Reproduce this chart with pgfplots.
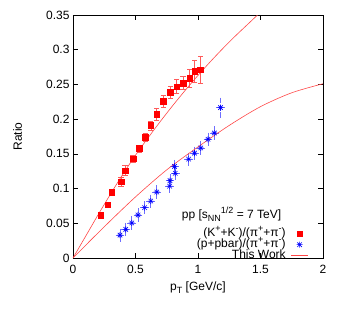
\documentclass[border=0pt]{standalone}
\usepackage{fontspec}
\setmainfont{Liberation Sans}
\usepackage{pgfplots}
\pgfplotsset{compat=1.18}
\newcommand{\sups}[1]{\raisebox{0.42em}{\fontsize{9}{9}\selectfont #1}}
\newcommand{\subs}[1]{\raisebox{-0.25em}{\fontsize{9}{9}\selectfont #1}}
\pgfdeclareplotmark{gpstar}{%
  \pgfpathmoveto{\pgfqpoint{-\pgfplotmarksize}{0pt}}\pgfpathlineto{\pgfqpoint{\pgfplotmarksize}{0pt}}%
  \pgfpathmoveto{\pgfqpoint{0pt}{-\pgfplotmarksize}}\pgfpathlineto{\pgfqpoint{0pt}{\pgfplotmarksize}}%
  \pgfpathmoveto{\pgfqpoint{-0.75\pgfplotmarksize}{-0.75\pgfplotmarksize}}\pgfpathlineto{\pgfqpoint{0.75\pgfplotmarksize}{0.75\pgfplotmarksize}}%
  \pgfpathmoveto{\pgfqpoint{-0.75\pgfplotmarksize}{0.75\pgfplotmarksize}}\pgfpathlineto{\pgfqpoint{0.75\pgfplotmarksize}{-0.75\pgfplotmarksize}}%
  \pgfusepathqstroke}
\definecolor{gpred}{RGB}{255,0,0}
\definecolor{gperr}{RGB}{255,90,90}
\definecolor{gpline}{RGB}{255,70,70}
\definecolor{gpblue}{RGB}{0,0,255}
\definecolor{gpbluerr}{RGB}{110,110,255}

\pgfplotstableread{
x      y      ey
0.222  0.062  0.004
0.277  0.077  0.004
0.311  0.095  0.004
0.384  0.110  0.006
0.416  0.126  0.007
0.480  0.143  0.005
0.530  0.158  0.005
0.578  0.174  0.006
0.623  0.191  0.0065
0.670  0.207  0.008
0.722  0.226  0.0085
0.778  0.239  0.009
0.830  0.247  0.010
0.880  0.252  0.0095
0.934  0.259  0.0135
0.974  0.269  0.0163
1.020  0.271  0.0192
}\kpi

\pgfplotstableread{
x      y      ex     ey
0.376  0.0330 0.015  0.006
0.422  0.0413 0.015  0.006
0.470  0.0505 0.015  0.006
0.520  0.0620 0.015  0.006
0.573  0.0725 0.015  0.006
0.622  0.0820 0.015  0.006
0.670  0.0950 0.015  0.006
0.773  0.1035 0.015  0.006
0.776  0.1115 0.015  0.006
0.818  0.1220 0.015  0.006
0.812  0.1320 0.015  0.006
0.925  0.1425 0.015  0.006
0.972  0.1510 0.015  0.006
1.022  0.1585 0.015  0.006
1.080  0.1710 0.015  0.006
1.131  0.1800 0.015  0.006
1.180  0.2166 0.015  0.011
}\ppi

\begin{document}
\begin{tikzpicture}
\begin{axis}[
  scale only axis, width=250pt, height=243pt,
  xmin=0, xmax=2, ymin=0, ymax=0.35,
  xtick={0,0.5,1,1.5,2},
  ytick={0,0.05,0.1,0.15,0.2,0.25,0.3,0.35},
  yticklabel style={/pgf/number format/fixed,/pgf/number format/precision=2},
  /pgf/number format/assume math mode=true,
  tick align=inside, major tick length=5pt,
  every tick/.style={black, line width=0.6pt},
  axis line style={black, line width=0.8pt},
  font=\fontsize{12}{14}\selectfont,
  xticklabel style={yshift=-4pt},
  xlabel={p\subs{T} [GeV/c]},
  ylabel={Ratio},
  xlabel style={at={(axis description cs:0.5,-0.1317)}, anchor=base},
  ylabel style={at={(axis description cs:-0.222,0.5)}, anchor=center},
  legend plot pos=right, legend cell align=right,
  legend style={draw=none, fill=none, at={(rel axis cs:0.9424,0.1235)}, anchor=north east,
    inner sep=0pt, row sep=0pt, column sep=5pt,
    nodes={inner sep=0pt, text height=8.5pt, text depth=2.5pt}},
]
\addplot[only marks, mark=square*, mark size=2.8pt, color=gpred,
  error bars/.cd, y dir=both, y explicit,
  error bar style={gperr, line width=0.5pt},
  error mark options={gperr, mark size=2.6pt, line width=0.5pt, rotate=90}]
  table[x=x, y=y, y error=ey] {\kpi};
\addlegendentry{(K\sups{+}+K\sups{-})/(π\sups{+}+π\sups{-})}

\addplot[only marks, mark=gpstar, mark size=3pt, color=gpblue, mark options={line width=0.6pt},
  error bars/.cd, x dir=both, x explicit, y dir=both, y explicit,
  error bar style={gpbluerr, dotted, line width=0.5pt},
  error mark options={gpbluerr, mark size=2.4pt, line width=0.5pt}]
  table[x=x, y=y, x error=ex, y error=ey] {\ppi};
\addlegendentry{(p+pbar)/(π\sups{+}+π\sups{-})}

\addplot[gpline, line width=0.6pt, smooth] coordinates {
(0,0) (0.1,0.031) (0.2,0.062) (0.3,0.092) (0.4,0.121) (0.5,0.148) (0.6,0.173)
(0.7,0.197) (0.8,0.220) (0.9,0.242) (1.0,0.263) (1.1,0.283) (1.2,0.302)
(1.3,0.320) (1.4,0.337) (1.5,0.354) (1.6,0.370)};
\addlegendentry{This Work}

\addplot[gpline, line width=0.6pt, smooth, forget plot] coordinates {
(0,0) (0.25,0.045) (0.5,0.088) (0.75,0.127) (1.0,0.160) (1.25,0.191)
(1.5,0.218) (1.75,0.238) (2.0,0.251)};

\node[anchor=base west, inner sep=0pt] at (axis cs:0.87,0.057) {pp [s\subs{NN}\sups{1/2} = 7 TeV]};
\end{axis}
\pgfresetboundingbox
\path[use as bounding box] (current axis.south west) ++(-73pt,-51pt) rectangle ++(346pt,309pt);
\end{tikzpicture}
\end{document}
